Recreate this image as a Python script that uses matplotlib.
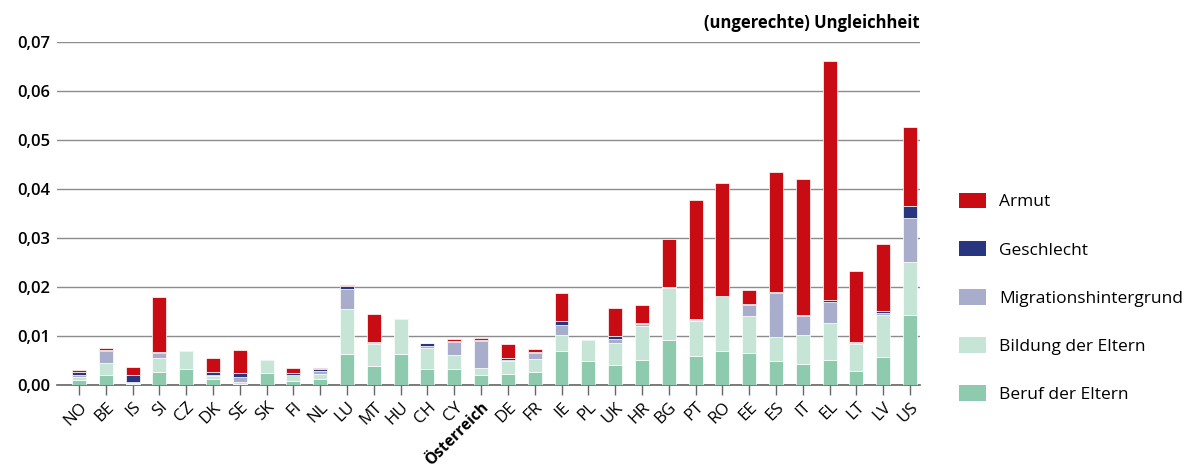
import numpy as np
import matplotlib
matplotlib.use('Agg')
from matplotlib import pyplot as plt
from matplotlib.patches import Patch

plt.rcParams['font.family'] = ['Open Sans', 'DejaVu Sans']

# -- Daten --
laender = ['NO', 'BE', 'IS', 'SI', 'CZ', 'DK', 'SE', 'SK', 'FI', 'NL', 'LU', 'MT', 'HU', 'CH',
           'CY', 'Österreich', 'DE', 'FR', 'IE', 'PL', 'UK', 'HR', 'BG', 'PT', 'RO', 'EE',
           'ES', 'IT', 'EL', 'LT', 'LV', 'US']

beruf = [0.0010, 0.0020, 0.0003, 0.0026, 0.0033, 0.0012, 0.0002, 0.0024, 0.0009, 0.0013,
         0.0064, 0.0039, 0.0063, 0.0032, 0.0032, 0.0021, 0.0022, 0.0026, 0.0070, 0.0049,
         0.0041, 0.0052, 0.0092, 0.0059, 0.0070, 0.0065, 0.0050, 0.0043, 0.0051, 0.0028,
         0.0058, 0.0143]
bildung = [0.0006, 0.0025, 0.0002, 0.0029, 0.0036, 0.0006, 0.0005, 0.0028, 0.0011, 0.0009,
           0.0091, 0.0044, 0.0071, 0.0043, 0.0029, 0.0013, 0.0027, 0.0027, 0.0032, 0.0044,
           0.0045, 0.0068, 0.0107, 0.0071, 0.0111, 0.0076, 0.0049, 0.0060, 0.0076, 0.0056,
           0.0085, 0.0108]
migration = [0.0005, 0.0025, 0.0001, 0.0011, 0.0003, 0.0003, 0.0010, 0.0001, 0.0001, 0.0006,
             0.0042, 0.0003, 0.0002, 0.0005, 0.0028, 0.0057, 0.0003, 0.0013, 0.0020, 0.0001,
             0.0009, 0.0004, 0.0001, 0.0003, 0.0001, 0.0022, 0.0089, 0.0038, 0.0043, 0.0002,
             0.0004, 0.0089]
geschlecht = [0.0005, 0.0002, 0.0014, 0.0001, 0.0000, 0.0006, 0.0007, 0.0000, 0.0003, 0.0004,
              0.0006, 0.0002, 0.0000, 0.0005, 0.0002, 0.0002, 0.0003, 0.0002, 0.0008, 0.0000,
              0.0005, 0.0003, 0.0000, 0.0002, 0.0000, 0.0002, 0.0002, 0.0003, 0.0003, 0.0003,
              0.0005, 0.0025]
armut = [0.0004, 0.0004, 0.0017, 0.0113, 0.0000, 0.0029, 0.0047, 0.0000, 0.0011, 0.0003,
         0.0002, 0.0057, 0.0000, 0.0000, 0.0004, 0.0004, 0.0028, 0.0006, 0.0057, 0.0000,
         0.0057, 0.0036, 0.0099, 0.0242, 0.0230, 0.0029, 0.0244, 0.0276, 0.0488, 0.0144,
         0.0136, 0.0162]

serien = [('Beruf der Eltern', beruf, '#8ecaad'),
          ('Bildung der Eltern', bildung, '#c6e5d7'),
          ('Migrationshintergrund', migration, '#a9adcc'),
          ('Geschlecht', geschlecht, '#27367f'),
          ('Armut', armut, '#c90c13')]

fig = plt.figure(figsize=(11.87, 4.72), dpi=100)
ax = fig.add_axes([0.048, 0.184, 0.727, 0.727])

x = np.arange(len(laender))
unten = np.zeros(len(laender))
for name, werte, farbe in serien:
    werte = np.array(werte)
    ax.bar(x, werte, 0.52, bottom=unten, color=farbe, edgecolor='white', linewidth=0.5, zorder=3)
    unten += werte

ax.set_xlim(-0.82, len(laender) - 0.63)
ax.set_ylim(0, 0.07)
ax.set_yticks(np.arange(0, 0.071, 0.01))
ax.set_yticklabels([f'{v:.2f}'.replace('.', ',') for v in np.arange(0, 0.071, 0.01)],
                   fontsize=12, fontweight='semibold')
ax.yaxis.grid(True, color='#8c8c8c', linewidth=1.0, zorder=0)
ax.tick_params(axis='y', length=0, pad=5)

ax.set_xticks(x)
ax.set_xticklabels(laender, rotation=45, ha='right', rotation_mode='anchor', fontsize=12.2,
                   fontweight='medium')
for lbl in ax.get_xticklabels():
    if lbl.get_text() == 'Österreich':
        lbl.set_fontweight('bold')
        lbl.set_fontsize(11.2)
ax.tick_params(axis='x', length=7, color='#666666', width=1, pad=3)

for s in ['top', 'right', 'left']:
    ax.spines[s].set_visible(False)
ax.spines['bottom'].set_color('#666666')
ax.spines['bottom'].set_linewidth(1.2)

ax.text(1.0, 1.03, '(ungerechte) Ungleichheit', transform=ax.transAxes, ha='right', va='bottom',
        fontsize=12, fontweight='bold')

# Legende
griffe = [Patch(facecolor=f, edgecolor='none', label=n) for n, w, f in serien[::-1]]
fig.legend(handles=griffe, loc='center left', bbox_to_anchor=(0.795, 0.369), frameon=False,
           fontsize=12.5, handlelength=1.55, handleheight=1.0, labelspacing=1.75,
           handletextpad=0.75)

plt.savefig('out.png', dpi=100)
